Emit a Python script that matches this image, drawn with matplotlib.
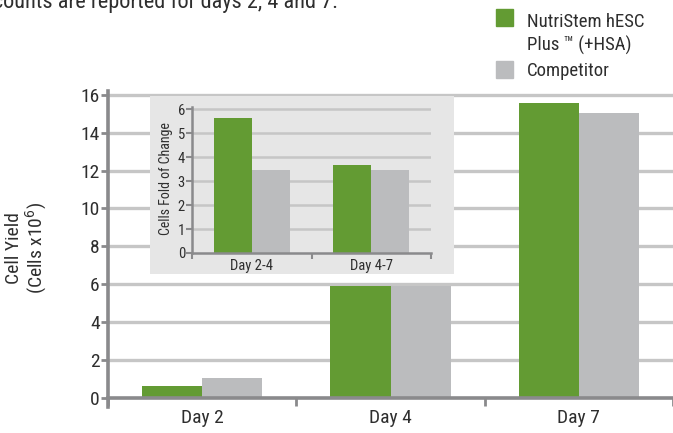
import matplotlib
matplotlib.use("Agg")
import matplotlib.pyplot as plt
from matplotlib.patches import Rectangle
import numpy as np

plt.rcParams['font.family'] = ['Noto Sans Condensed', 'Roboto Condensed',
                               'Noto Sans', 'DejaVu Sans']
plt.rcParams['font.stretch'] = 'condensed'

# Data
days = ["Day 2", "Day 4", "Day 7"]
nutristem_yield = [0.65, 5.9, 15.55]
competitor_yield = [1.05, 5.9, 15.05]

periods = ["Day 2-4", "Day 4-7"]
nutristem_fold = [5.62, 3.69]
competitor_fold = [3.45, 3.45]

series_names = ["NutriStem hESC\nPlus \u2122 (+HSA)", "Competitor"]
yield_ticks = [0, 2, 4, 6, 8, 10, 12, 14, 16]
fold_ticks = [0, 1, 2, 3, 4, 5, 6]

GREEN = "#639b33"
GREY = "#bbbcbe"
AXIS = "#8a8a8c"
GRID = "#c6c6c6"
TEXT = "#2e2e2e"
PANEL = "#e6e6e6"

W, H = 673, 433
fig = plt.figure(figsize=(W / 100, H / 100), dpi=100)


def frac(x0, y0, x1, y1):
    """Pixel box (top-left origin) -> figure fraction rect."""
    return [x0 / W, 1 - y1 / H, (x1 - x0) / W, (y1 - y0) / H]


# Main chart
ax = fig.add_axes(frac(108, 91, 673, 398))
x = np.arange(len(days))
bw = 0.32
ax.bar(x - bw / 2, nutristem_yield, bw, color=GREEN, zorder=3)
ax.bar(x + bw / 2, competitor_yield, bw, color=GREY, zorder=3)
ax.set_xlim(-0.5, 2.474)
ax.set_ylim(0, 16.2)
for t in yield_ticks[1:]:
    ax.axhline(t, color=GRID, lw=2.4, zorder=1)
for s in ["top", "right"]:
    ax.spines[s].set_visible(False)
for s in ["left", "bottom"]:
    ax.spines[s].set_color(AXIS)
    ax.spines[s].set_linewidth(2.6)
    ax.spines[s].set_zorder(4)
ax.spines["left"].set_bounds(-0.45, 16.2)
ax.set_yticks(yield_ticks)
ax.set_yticklabels([str(v) for v in yield_ticks])
ax.set_xticks([-0.5, 0.5, 1.5, 2.5])
ax.set_xticklabels([])
ax.set_xticks(x, minor=True)
ax.set_xticklabels(days, minor=True)
ax.tick_params(axis="y", length=5, width=2, color=AXIS, labelsize=14,
               labelcolor=TEXT, pad=1)
ax.tick_params(axis="x", which="major", length=6, width=2, color=AXIS)
ax.tick_params(axis="x", which="minor", length=0, labelsize=14,
               labelcolor=TEXT, pad=8)
ax.patch.set_alpha(0)

fig.text(27 / W, 1 - 248 / H, "Cell Yield\n(Cells x10$^{6}$)", rotation=90,
         ha="center", va="center", fontsize=14, color=TEXT,
         linespacing=1.0, multialignment="center")

# Inset panel background
panel = fig.add_axes(frac(150, 96, 454, 274))
panel.set_facecolor(PANEL)
panel.set_xticks([])
panel.set_yticks([])
for s in panel.spines.values():
    s.set_visible(False)

# Inset chart: fold change
ins = fig.add_axes(frac(192, 107, 431, 253))
xi = np.arange(len(periods))
ins.bar(xi - bw / 2, nutristem_fold, bw, color=GREEN, zorder=3)
ins.bar(xi + bw / 2, competitor_fold, bw, color=GREY, zorder=3)
ins.set_xlim(-0.5, 1.5)
ins.set_ylim(0, 6.1)
for t in fold_ticks[1:]:
    ins.axhline(t, color=GRID, lw=1.8, zorder=1)
ins.patch.set_alpha(0)
for s in ["top", "right"]:
    ins.spines[s].set_visible(False)
for s in ["left", "bottom"]:
    ins.spines[s].set_color(AXIS)
    ins.spines[s].set_linewidth(1.8)
    ins.spines[s].set_zorder(4)
ins.set_yticks(fold_ticks)
ins.set_xticks([-0.5, 0.5, 1.5])
ins.set_xticklabels([])
ins.set_xticks(xi, minor=True)
ins.set_xticklabels(periods, minor=True)
ins.tick_params(axis="y", length=4, width=1.5, color=AXIS, labelsize=10.5,
                labelcolor=TEXT, pad=1)
ins.tick_params(axis="x", which="major", length=4, width=1.5, color=AXIS)
ins.tick_params(axis="x", which="minor", length=0, labelsize=10.5,
                labelcolor=TEXT, pad=4)
fig.text(166 / W, 1 - 179 / H, "Cells Fold of Change", rotation=90,
         ha="center", va="center", fontsize=10, color=TEXT)

# Legend: squares with labels, the first label wrapping onto a second line
colors = [GREEN, GREY]
sq_tops = [9, 61]
for c, top in zip(colors, sq_tops):
    fig.add_artist(Rectangle((496 / W, 1 - (top + 17) / H), 17 / W, 17 / H,
                             transform=fig.transFigure, color=c))
label_lines = series_names[0].split("\n") + [series_names[1]]
baselines = [27, 51, 76]
for line, base in zip(label_lines, baselines):
    fig.text(527 / W, 1 - base / H, line, ha="left", va="baseline",
             fontsize=13.5, color=TEXT)

# Caption line running off the top edge
fig.text(-7 / W, 1 - 8 / H, "counts are reported for days 2, 4 and 7.",
         ha="left", va="baseline", fontsize=16, color=TEXT)

fig.savefig("out.png", dpi=100)
